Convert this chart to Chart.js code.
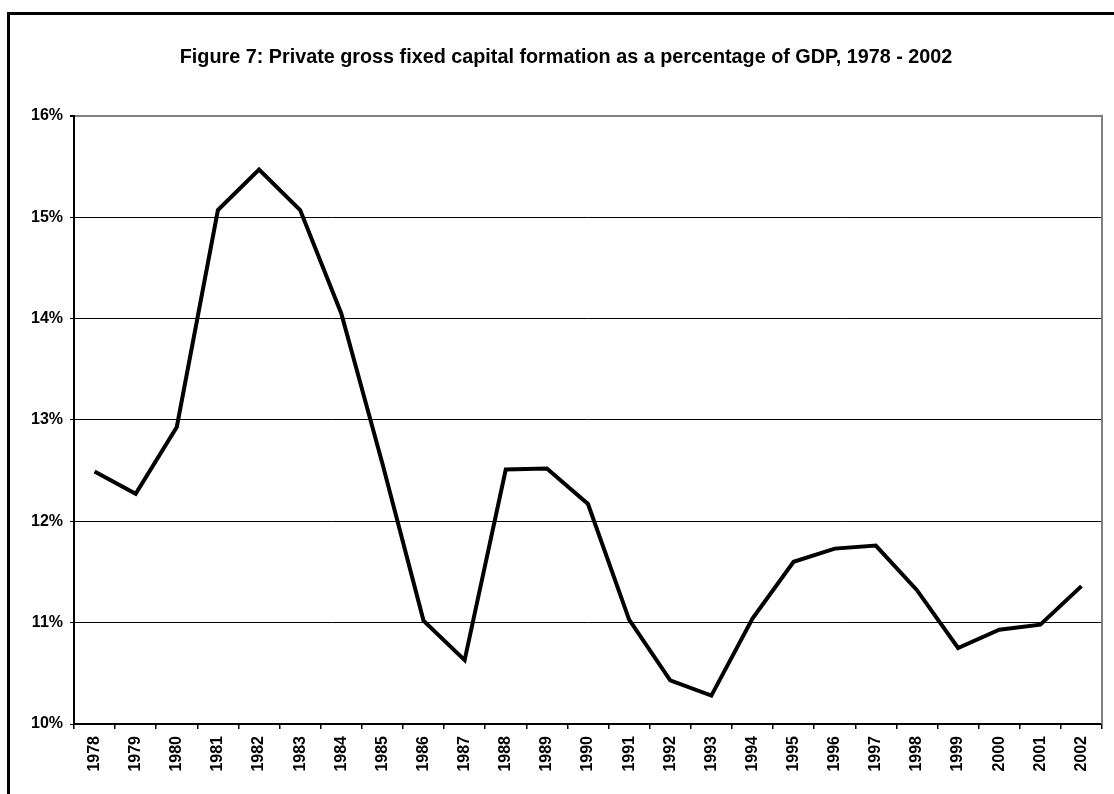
<!DOCTYPE html>
<html>
<head>
<meta charset="utf-8">
<script src="https://cdn.jsdelivr.net/npm/chart.js@4/dist/chart.umd.min.js"></script>
<style>
  html, body { margin: 0; padding: 0; background: #fff; overflow: hidden; }
  #frame {
    position: absolute; left: 7px; top: 12px; width: 1200px; height: 900px;
    border-left: 3px solid #000; border-top: 3px solid #000;
  }
  #wrap { position: absolute; left: 0; top: 0; width: 1114px; height: 794px; }
</style>
</head>
<body>
<div id="frame"></div>
<div id="wrap"><canvas id="LineChart" width="1114" height="794"></canvas></div>
<script>
const years = ["1978", "1979", "1980", "1981", "1982", "1983", "1984", "1985", "1986",
  "1987", "1988", "1989", "1990", "1991", "1992", "1993", "1994", "1995", "1996",
  "1997", "1998", "1999", "2000", "2001", "2002"];

// private GFCF, % of GDP
const privateGfcf = [12.49, 12.27, 12.93, 15.07, 15.47, 15.07, 14.05, 12.57, 11.02,
  10.63, 12.51, 12.52, 12.17, 11.03, 10.43, 10.28, 11.04, 11.60, 11.73,
  11.76, 11.32, 10.75, 10.93, 10.98, 11.36];

const yTicks = [10, 11, 12, 13, 14, 15, 16];

const font = "'Liberation Sans', Arial, sans-serif";

// gray right edge of the plot box
const plotEdge = {
  id: "plotEdge",
  afterDraw(chart) {
    const { ctx, chartArea } = chart;
    ctx.save();
    ctx.strokeStyle = "#808080";
    ctx.lineWidth = 2;
    ctx.beginPath();
    ctx.moveTo(chartArea.right, chartArea.top - 1);
    ctx.lineTo(chartArea.right, chartArea.bottom);
    ctx.stroke();
    ctx.restore();
  },
};

const data = {
  labels: years,
  datasets: [
    {
      label: "Private GFCF",
      data: privateGfcf,
      borderColor: "#000",
      borderWidth: 4,
      pointRadius: 0,
      tension: 0,
      borderJoinStyle: "miter",
    },
  ],
};

const config = {
  type: "line",
  data,
  plugins: [plotEdge],
  options: {
    responsive: false,
    animation: false,
    // left padding only nudges the centred title; y axis width makes up the rest
    layout: { padding: { left: 30, right: 12, top: 0, bottom: 0 } },
    plugins: {
      legend: { display: false },
      tooltip: { enabled: false },
      title: {
        display: true,
        text: "Figure 7: Private gross fixed capital formation as a percentage of GDP, 1978 - 2002",
        color: "#000",
        font: { family: font, size: 19.8, weight: "bold" },
        padding: { top: 46, bottom: 46 },
      },
    },
    scales: {
      x: {
        offset: true,
        grid: {
          offset: true,
          drawOnChartArea: false,
          color: "#000",
          lineWidth: 1.5,
          tickLength: 5,
        },
        border: { color: "#000", width: 2 },
        ticks: {
          color: "#000",
          minRotation: 90,
          maxRotation: 90,
          padding: 7,
          font: { family: font, size: 16, weight: "bold" },
        },
        afterFit(scale) { scale.height = 70; },
      },
      y: {
        min: 10,
        max: 16,
        afterBuildTicks(scale) { scale.ticks = yTicks.map(v => ({ value: v })); },
        grid: {
          color: ctx => (ctx.tick && ctx.tick.value === 16 ? "#808080" : "#000"),
          lineWidth: ctx => (ctx.tick && ctx.tick.value === 16 ? 2 : 1),
          tickColor: "#000",
          tickLength: 4,
        },
        border: { color: "#000", width: 2 },
        ticks: {
          color: "#000",
          padding: 7,
          font: { family: font, size: 16, weight: "bold" },
          callback: v => v + "%",
        },
        afterFit(scale) { scale.width = 44; },
      },
    },
  },
};

const LineChart = new Chart(document.getElementById("LineChart"), config);
</script>
</body>
</html>
